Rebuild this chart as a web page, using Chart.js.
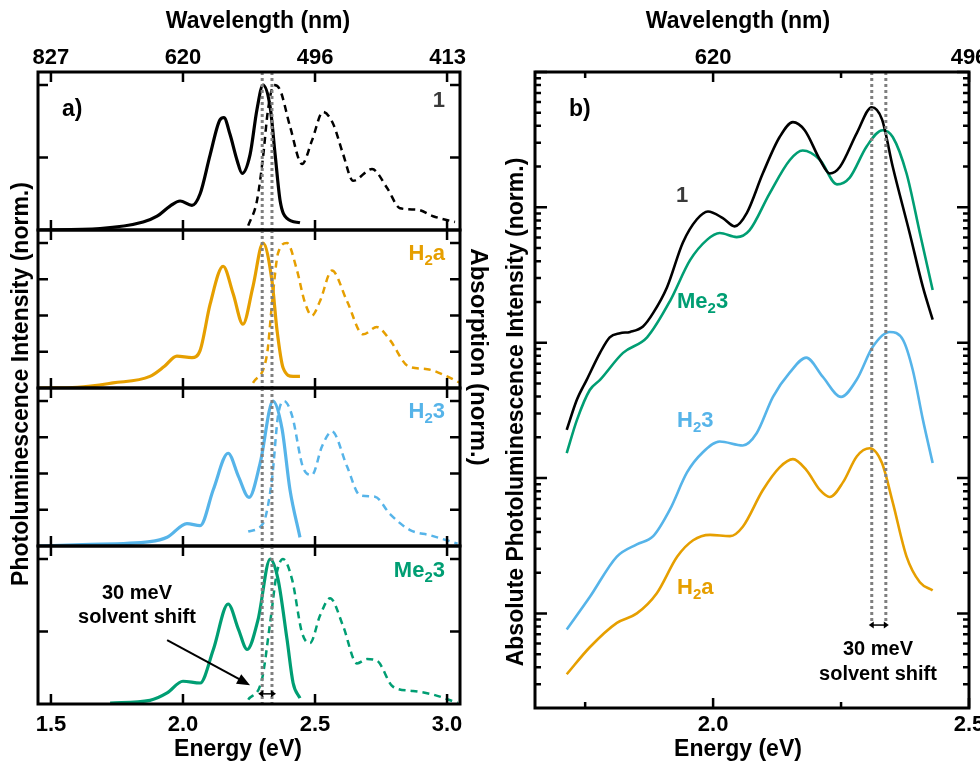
<!DOCTYPE html>
<html>
<head>
<meta charset="utf-8">
<script src="https://cdn.jsdelivr.net/npm/chart.js@4.4.1/dist/chart.umd.min.js"></script>
<style>
body { margin: 0; background: #fff; }
#wrap { position: relative; width: 980px; height: 762px; }
#wrap canvas { position: absolute; left: 0; top: 0; }
</style>
</head>
<body>
<div id="wrap">
  <canvas id="a1" width="980" height="762"></canvas>
  <canvas id="a2" width="980" height="762"></canvas>
  <canvas id="a3" width="980" height="762"></canvas>
  <canvas id="a4" width="980" height="762"></canvas>
  <canvas id="b" width="980" height="762"></canvas>
</div>
<script>
// ---- axis ticks
var eTicksA = [1.5, 2.0, 2.5, 3.0];
var wlTicksA = [827, 620, 496, 413];
var eTicksB = [2.0, 2.5];
var eMinorB = [1.75, 2.25];
var wlTicksB = [620, 496];
var logMajorB = [1, 10, 100, 1000, 10000];
var logMinorMult = [2, 3, 4, 5, 6, 7, 8, 9];
var shiftA = [2.300, 2.337];
var shiftB = [2.310, 2.3375];

// ---- panel a: PL (solid) and absorption (dashed), normalised
var pl1E = [1.459, 1.686, 1.849, 1.902, 1.951, 1.989, 2.034, 2.065, 2.103, 2.140, 2.155, 2.178, 2.205, 2.224, 2.254, 2.280, 2.303, 2.330, 2.349, 2.368, 2.394, 2.443];
var pl1Y = [0.0, 0.01, 0.055, 0.095, 0.165, 0.20, 0.17, 0.25, 0.52, 0.76, 0.775, 0.66, 0.48, 0.39, 0.52, 0.83, 1.0, 0.85, 0.52, 0.20, 0.08, 0.05];
var ab1E = [2.247, 2.280, 2.303, 2.322, 2.345, 2.368, 2.406, 2.451, 2.489, 2.530, 2.568, 2.606, 2.644, 2.716, 2.773, 2.822, 2.887, 2.947, 3.030];
var ab1Y = [0.03, 0.20, 0.50, 0.83, 1.0, 0.965, 0.71, 0.455, 0.62, 0.815, 0.735, 0.525, 0.34, 0.42, 0.29, 0.15, 0.14, 0.095, 0.055];

var pl2E = [1.455, 1.600, 1.735, 1.875, 1.930, 1.977, 2.034, 2.065, 2.103, 2.152, 2.190, 2.227, 2.265, 2.303, 2.337, 2.356, 2.379, 2.417, 2.443];
var pl2Y = [0.0, 0.005, 0.035, 0.08, 0.15, 0.22, 0.21, 0.26, 0.58, 0.84, 0.65, 0.44, 0.70, 1.0, 0.74, 0.40, 0.14, 0.08, 0.08];
var ab2E = [2.265, 2.318, 2.337, 2.360, 2.394, 2.432, 2.460, 2.488, 2.519, 2.564, 2.621, 2.682, 2.734, 2.784, 2.853, 2.925, 3.000, 3.049];
var ab2Y = [0.035, 0.23, 0.58, 0.93, 1.0, 0.81, 0.60, 0.50, 0.60, 0.81, 0.60, 0.37, 0.42, 0.33, 0.15, 0.13, 0.08, 0.035];

var pl3E = [1.455, 1.620, 1.875, 1.940, 2.015, 2.065, 2.115, 2.171, 2.210, 2.250, 2.292, 2.341, 2.375, 2.405, 2.443];
var pl3Y = [0.0, 0.01, 0.03, 0.06, 0.155, 0.14, 0.39, 0.64, 0.48, 0.335, 0.57, 1.0, 0.81, 0.39, 0.06];
var ab3E = [2.247, 2.303, 2.337, 2.360, 2.383, 2.413, 2.455, 2.488, 2.527, 2.564, 2.621, 2.670, 2.727, 2.784, 2.860, 2.936, 3.040];
var ab3Y = [0.10, 0.155, 0.46, 0.90, 1.0, 0.90, 0.54, 0.49, 0.69, 0.79, 0.55, 0.35, 0.34, 0.22, 0.11, 0.074, 0.016];

var pl4E = [1.724, 1.875, 1.940, 2.000, 2.065, 2.115, 2.171, 2.210, 2.243, 2.284, 2.330, 2.360, 2.394, 2.417, 2.443];
var pl4Y = [0.007, 0.025, 0.076, 0.157, 0.145, 0.376, 0.69, 0.515, 0.376, 0.58, 1.0, 0.86, 0.446, 0.145, 0.04];
var ab4E = [2.247, 2.299, 2.330, 2.356, 2.379, 2.413, 2.451, 2.481, 2.519, 2.557, 2.606, 2.659, 2.697, 2.734, 2.795, 2.871, 2.947, 3.040];
var ab4Y = [0.03, 0.17, 0.56, 0.91, 1.0, 0.86, 0.49, 0.42, 0.61, 0.73, 0.54, 0.28, 0.31, 0.30, 0.12, 0.09, 0.065, 0.007];

// ---- panel b: absolute PL (log scale)
var bE1 = [1.714, 1.734, 1.753, 1.779, 1.798, 1.818, 1.838, 1.863, 1.883, 1.910, 1.941, 1.968, 1.990, 2.019, 2.042, 2.066, 2.097, 2.130, 2.156, 2.179, 2.209, 2.228, 2.248, 2.281, 2.310, 2.330, 2.351, 2.384, 2.410, 2.429];
var bY1 = [22.7, 38, 53.1, 84.1, 109.6, 117.5, 120.2, 131.8, 166, 257, 550, 813, 933, 832, 724, 912, 1778, 3311, 4266, 3715, 2239, 1778, 1995, 3548, 5495, 4467, 1995, 646, 257, 148];
var bEMe = [1.714, 1.734, 1.759, 1.779, 1.824, 1.871, 1.916, 1.955, 1.988, 2.013, 2.046, 2.071, 2.110, 2.150, 2.175, 2.209, 2.242, 2.267, 2.300, 2.331, 2.351, 2.378, 2.404, 2.429];
var bYMe = [15.3, 26.9, 44.7, 53.1, 84.1, 109.6, 204, 407, 575, 646, 603, 676, 1259, 2239, 2630, 2239, 1479, 1660, 2818, 3715, 3311, 1778, 646, 245];
var bEH3 = [1.714, 1.759, 1.812, 1.851, 1.883, 1.916, 1.949, 1.980, 2.013, 2.058, 2.085, 2.117, 2.150, 2.182, 2.214, 2.250, 2.281, 2.312, 2.345, 2.371, 2.390, 2.410, 2.429];
var bYH3 = [0.76, 1.32, 2.63, 3.24, 3.72, 5.89, 11.0, 15.5, 18.6, 17.4, 21.4, 39.8, 60.3, 77.6, 56.2, 39.8, 53.7, 93.3, 120, 105, 63.1, 26.9, 12.9];
var bEH2 = [1.714, 1.759, 1.812, 1.851, 1.890, 1.930, 1.961, 1.994, 2.033, 2.058, 2.097, 2.130, 2.156, 2.182, 2.209, 2.228, 2.254, 2.281, 2.306, 2.330, 2.351, 2.378, 2.404, 2.429];
var bYH2 = [0.355, 0.562, 0.851, 1.0, 1.41, 2.63, 3.47, 3.80, 3.72, 4.37, 8.13, 12.0, 13.8, 11.5, 8.13, 7.24, 9.33, 14.5, 16.6, 12.9, 6.61, 2.63, 1.70, 1.48];

var BLACK = '#000000', ORANGE = '#E69F00', BLUE = '#56B4E9', GREEN = '#009E73', GREY1 = '#3a3a3a';
var FONT = '"Liberation Sans", Arial, sans-serif';

function pts(xs, ys) {
    return xs.map(function (x, i) { return { x: x, y: ys[i] }; });
}

function rich(ctx, parts, x, y, align, size, color) {
    var big = 'bold ' + size + 'px ' + FONT;
    var small = 'bold ' + Math.round(size * 0.68) + 'px ' + FONT;
    var w = 0;
    parts.forEach(function (p) { ctx.font = p[1] ? small : big; w += ctx.measureText(p[0]).width; });
    var cx = align === 'right' ? x - w : (align === 'center' ? x - w / 2 : x);
    ctx.fillStyle = color;
    ctx.textAlign = 'left';
    ctx.textBaseline = 'middle';
    parts.forEach(function (p) {
        ctx.font = p[1] ? small : big;
        ctx.fillText(p[0], cx, y + (p[1] ? size * 0.3 : 0));
        cx += ctx.measureText(p[0]).width;
    });
}

function text(ctx, t, x, y, size, rot) {
    ctx.save();
    ctx.translate(x, y);
    if (rot) ctx.rotate(rot);
    ctx.font = 'bold ' + size + 'px ' + FONT;
    ctx.fillStyle = '#000';
    ctx.textAlign = 'center';
    ctx.textBaseline = 'middle';
    ctx.fillText(t, 0, 0);
    ctx.restore();
}

function arrowHead(ctx, x0, y0, x1, y1, len, wid) {
    var a = Math.atan2(y1 - y0, x1 - x0);
    ctx.beginPath();
    ctx.moveTo(x1, y1);
    ctx.lineTo(x1 - len * Math.cos(a) + wid * Math.sin(a), y1 - len * Math.sin(a) - wid * Math.cos(a));
    ctx.lineTo(x1 - len * Math.cos(a) - wid * Math.sin(a), y1 - len * Math.sin(a) + wid * Math.cos(a));
    ctx.closePath();
    ctx.fill();
}

function dotted(ctx, x, top, bottom) {
    ctx.save();
    ctx.strokeStyle = '#7f7f7f';
    ctx.lineWidth = 3;
    ctx.setLineDash([3, 3]);
    ctx.beginPath();
    ctx.moveTo(x, top);
    ctx.lineTo(x, bottom);
    ctx.stroke();
    ctx.restore();
}

// ---- panel a subplots
var subs = [
    { id: 'a1', top: 72, bottom: 230, color: BLACK, plE: pl1E, plY: pl1Y, abE: ab1E, abY: ab1Y, yt: [0.5, 1.0], name: [['1', 0]], nameColor: GREY1, ny: 101 },
    { id: 'a2', top: 230, bottom: 388, color: ORANGE, plE: pl2E, plY: pl2Y, abE: ab2E, abY: ab2Y, yt: [0.25, 0.5, 0.75, 1.0], name: [['H', 0], ['2', 1], ['a', 0]], nameColor: ORANGE, ny: 254 },
    { id: 'a3', top: 388, bottom: 546, color: BLUE, plE: pl3E, plY: pl3Y, abE: ab3E, abY: ab3Y, yt: [0.25, 0.5, 0.75, 1.0], name: [['H', 0], ['2', 1], ['3', 0]], nameColor: BLUE, ny: 412 },
    { id: 'a4', top: 546, bottom: 704, color: GREEN, plE: pl4E, plY: pl4Y, abE: ab4E, abY: ab4Y, yt: [0.5, 1.0], name: [['Me', 0], ['2', 1], ['3', 0]], nameColor: GREEN, ny: 571 }
];

subs.forEach(function (s, idx) {
    var deco = {
        id: 'decoA' + idx,
        afterDatasetsDraw: function (chart) {
            var ctx = chart.ctx, a = chart.chartArea, x = chart.scales.x, y = chart.scales.y;
            shiftA.forEach(function (e) { dotted(ctx, x.getPixelForValue(e), a.top, a.bottom); });
            ctx.save();
            ctx.strokeStyle = '#000';
            ctx.lineWidth = 3;
            ctx.strokeRect(a.left, a.top, a.right - a.left, a.bottom - a.top);
            ctx.lineWidth = 2.5;
            ctx.beginPath();
            eTicksA.forEach(function (e) {
                var px = x.getPixelForValue(e);
                ctx.moveTo(px, a.top); ctx.lineTo(px, a.top + 10);
                ctx.moveTo(px, a.bottom); ctx.lineTo(px, a.bottom - 10);
            });
            s.yt.forEach(function (v) {
                var py = y.getPixelForValue(v);
                ctx.moveTo(a.left, py); ctx.lineTo(a.left + 10, py);
                ctx.moveTo(a.right, py); ctx.lineTo(a.right - 10, py);
            });
            ctx.stroke();
            ctx.restore();
            rich(ctx, s.name, 445, s.ny, 'right', 22, s.nameColor);
            if (idx === 0) {
                wlTicksA.forEach(function (w) { text(ctx, String(w), x.getPixelForValue(1240 / w), 58, 22); });
                text(ctx, 'Wavelength (nm)', 258, 22, 23);
                ctx.font = 'bold 23px ' + FONT;
                ctx.fillStyle = '#000';
                ctx.textAlign = 'left';
                ctx.textBaseline = 'middle';
                ctx.fillText('a)', 62, 110);
            }
            if (idx === 3) {
                eTicksA.forEach(function (e) { text(ctx, e.toFixed(1), x.getPixelForValue(e), 725, 22); });
                text(ctx, 'Energy (eV)', 238, 750, 23);
                text(ctx, 'Photoluminescence Intensity (norm.)', 22, 384, 23, -Math.PI / 2);
                text(ctx, 'Absorption (norm.)', 478, 357, 24, Math.PI / 2);
                // annotation
                text(ctx, '30 meV', 137, 593, 20);
                text(ctx, 'solvent shift', 137, 617, 20);
                var x0 = x.getPixelForValue(1.94), y0 = y.getPixelForValue(0.44);
                var x1 = x.getPixelForValue(2.254), y1 = y.getPixelForValue(0.13);
                ctx.save();
                ctx.strokeStyle = '#000'; ctx.fillStyle = '#000'; ctx.lineWidth = 2;
                ctx.beginPath(); ctx.moveTo(x0, y0); ctx.lineTo(x1 - 8, y1 - 4.5); ctx.stroke();
                arrowHead(ctx, x0, y0, x1, y1, 13, 5.5);
                var xa = x.getPixelForValue(shiftA[0]) - 4, xb = x.getPixelForValue(shiftA[1]) + 4, ya = y.getPixelForValue(0.07);
                ctx.lineWidth = 1.5;
                ctx.beginPath(); ctx.moveTo(xa + 4, ya); ctx.lineTo(xb - 4, ya); ctx.stroke();
                arrowHead(ctx, xb, ya, xa, ya, 5, 3.5);
                arrowHead(ctx, xa, ya, xb, ya, 5, 3.5);
                ctx.restore();
            }
        }
    };
    new Chart(document.getElementById(s.id), {
        type: 'line',
        data: {
            datasets: [
                { data: pts(s.abE, s.abY), borderColor: s.color, borderWidth: 2.5, borderDash: [7, 5], pointRadius: 0, cubicInterpolationMode: 'monotone', fill: false },
                { data: pts(s.plE, s.plY), borderColor: s.color, borderWidth: 3.2, pointRadius: 0, cubicInterpolationMode: 'monotone', fill: false }
            ]
        },
        options: {
            responsive: false,
            animation: false,
            events: [],
            layout: { padding: { left: 38, right: 980 - 460, top: s.top, bottom: 762 - s.bottom } },
            plugins: { legend: { display: false }, tooltip: { enabled: false } },
            scales: {
                x: { type: 'linear', min: 1.451, max: 3.049, display: false },
                y: { type: 'linear', min: 0, max: 1.09, display: false }
            }
        },
        plugins: [deco]
    });
});

// ---- panel b
var decoB = {
    id: 'decoB',
    afterDatasetsDraw: function (chart) {
        var ctx = chart.ctx, a = chart.chartArea, x = chart.scales.x, y = chart.scales.y;
        shiftB.forEach(function (e) { dotted(ctx, x.getPixelForValue(e), a.top, y.getPixelForValue(0.85)); });
        ctx.save();
        ctx.strokeStyle = '#000';
        ctx.lineWidth = 3;
        ctx.strokeRect(a.left, a.top, a.right - a.left, a.bottom - a.top);
        ctx.lineWidth = 2.5;
        ctx.beginPath();
        eTicksB.forEach(function (e) {
            var px = x.getPixelForValue(e);
            ctx.moveTo(px, a.top); ctx.lineTo(px, a.top + 10);
            ctx.moveTo(px, a.bottom); ctx.lineTo(px, a.bottom - 10);
        });
        eMinorB.forEach(function (e) {
            var px = x.getPixelForValue(e);
            ctx.moveTo(px, a.top); ctx.lineTo(px, a.top + 6);
            ctx.moveTo(px, a.bottom); ctx.lineTo(px, a.bottom - 6);
        });
        logMajorB.forEach(function (v) {
            var py = y.getPixelForValue(v);
            ctx.moveTo(a.left, py); ctx.lineTo(a.left + 12, py);
            ctx.moveTo(a.right, py); ctx.lineTo(a.right - 12, py);
        });
        [0.1, 1, 10, 100, 1000].forEach(function (d) {
            logMinorMult.forEach(function (m) {
                var v = m * d;
                if (v <= y.min || v >= y.max) return;
                var py = y.getPixelForValue(v);
                ctx.moveTo(a.left, py); ctx.lineTo(a.left + 6, py);
                ctx.moveTo(a.right, py); ctx.lineTo(a.right - 6, py);
            });
        });
        ctx.stroke();
        ctx.restore();

        wlTicksB.forEach(function (w) { text(ctx, String(w), x.getPixelForValue(1240 / w), 58, 22); });
        eTicksB.forEach(function (e) { text(ctx, e.toFixed(1), x.getPixelForValue(e), 725, 22); });
        text(ctx, 'Wavelength (nm)', 738, 22, 23);
        text(ctx, 'Energy (eV)', 738, 750, 23);
        text(ctx, 'Absolute Photoluminescence Intensity (norm.)', 517, 412, 23, -Math.PI / 2);
        ctx.font = 'bold 23px ' + FONT;
        ctx.fillStyle = '#000';
        ctx.textAlign = 'left';
        ctx.textBaseline = 'middle';
        ctx.fillText('b)', 569, 110);

        rich(ctx, [['1', 0]], 682, 196, 'center', 22, GREY1);
        rich(ctx, [['Me', 0], ['2', 1], ['3', 0]], 677, 302, 'left', 22, GREEN);
        rich(ctx, [['H', 0], ['2', 1], ['3', 0]], 677, 421, 'left', 22, BLUE);
        rich(ctx, [['H', 0], ['2', 1], ['a', 0]], 677, 588, 'left', 22, ORANGE);

        var xa = x.getPixelForValue(shiftB[0]) - 3, xb = x.getPixelForValue(shiftB[1]) + 3, ya = y.getPixelForValue(0.82);
        ctx.save();
        ctx.strokeStyle = '#000'; ctx.fillStyle = '#000'; ctx.lineWidth = 1.5;
        ctx.beginPath(); ctx.moveTo(xa + 4, ya); ctx.lineTo(xb - 4, ya); ctx.stroke();
        arrowHead(ctx, xb, ya, xa, ya, 5, 3.5);
        arrowHead(ctx, xa, ya, xb, ya, 5, 3.5);
        ctx.restore();
        text(ctx, '30 meV', 878, 649, 20);
        text(ctx, 'solvent shift', 878, 674, 20);
    }
};

new Chart(document.getElementById('b'), {
    type: 'line',
    data: {
        datasets: [
            { data: pts(bE1, bY1), borderColor: BLACK, borderWidth: 2.6, pointRadius: 0, cubicInterpolationMode: 'monotone' },
            { data: pts(bEMe, bYMe), borderColor: GREEN, borderWidth: 2.6, pointRadius: 0, cubicInterpolationMode: 'monotone' },
            { data: pts(bEH3, bYH3), borderColor: BLUE, borderWidth: 2.6, pointRadius: 0, cubicInterpolationMode: 'monotone' },
            { data: pts(bEH2, bYH2), borderColor: ORANGE, borderWidth: 2.6, pointRadius: 0, cubicInterpolationMode: 'monotone' }
        ]
    },
    options: {
        responsive: false,
        animation: false,
        events: [],
        layout: { padding: { left: 535, right: 980 - 969, top: 72, bottom: 762 - 708 } },
        plugins: { legend: { display: false }, tooltip: { enabled: false } },
        scales: {
            x: { type: 'linear', min: 1.652, max: 2.5, display: false },
            y: { type: 'logarithmic', min: 0.2, max: 10000, display: false }
        }
    },
    plugins: [decoB]
});
</script>
</body>
</html>
